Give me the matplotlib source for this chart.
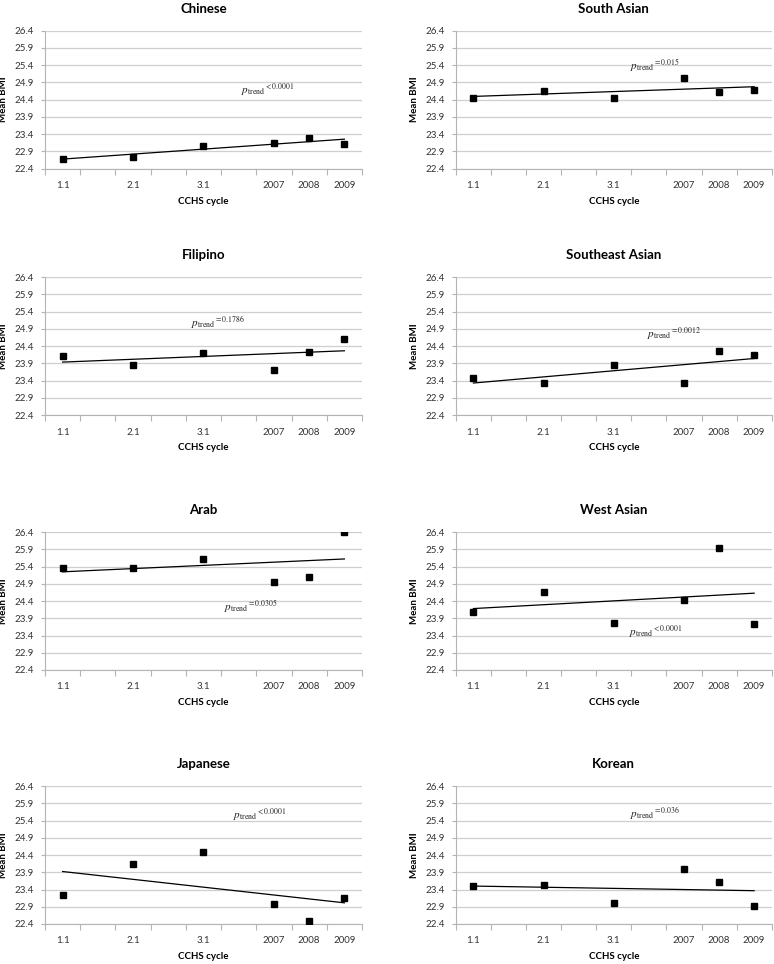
import numpy as np
import matplotlib.pyplot as plt
from matplotlib import rcParams

rcParams['font.family'] = ['Lato', 'DejaVu Sans']
rcParams['mathtext.fontset'] = 'stix'

# CCHS cycle labels (Excel category axis with empty slots between early cycles)
cycles = ["1.1", "", "2.1", "", "3.1", "", "2007", "2008", "2009"]
cycle_labels = ["1.1", "2.1", "3.1", "2007", "2008", "2009"]
cycle_slots = [0, 2, 4, 6, 7, 8]

groups = ["Chinese", "South Asian", "Filipino", "Southeast Asian",
          "Arab", "West Asian", "Japanese", "Korean"]

bmi_chinese = [22.68, 22.72, 23.05, 23.14, 23.29, 23.11]
bmi_south_asian = [24.44, 24.66, 24.45, 25.04, 24.62, 24.69]
bmi_filipino = [24.12, 23.86, 24.20, 23.71, 24.23, 24.60]
bmi_southeast_asian = [23.48, 23.33, 23.84, 23.32, 24.25, 24.15]
bmi_arab = [25.36, 25.35, 25.61, 24.95, 25.09, 26.39]
bmi_west_asian = [24.08, 24.66, 23.76, 24.43, 25.95, 23.72]
bmi_japanese = [23.23, 24.13, 24.50, 22.97, 22.48, 23.16]
bmi_korean = [23.50, 23.52, 23.00, 23.99, 23.62, 22.92]

p_trend = ["<0.0001", "=0.015", "=0.1786", "=0.0012",
           "=0.0305", "<0.0001", "<0.0001", "=0.036"]

series = [bmi_chinese, bmi_south_asian, bmi_filipino, bmi_southeast_asian,
          bmi_arab, bmi_west_asian, bmi_japanese, bmi_korean]

# where the p-trend note sits (data coords, left edge)
note_pos = [(5.56, 24.67), (4.95, 25.38), (4.14, 25.09), (5.44, 24.76),
            (5.09, 24.25), (4.94, 23.52), (5.35, 25.57), (4.95, 25.59)]

yticks = np.arange(22.4, 26.41, 0.5)

fig = plt.figure(figsize=(7.74, 9.64), dpi=100)

col_x = [0.0581, 0.589]
col_w = [0.4096, 0.408]
row_y = [0.8252, 0.5695, 0.305, 0.0415]
ax_h = 0.143

grid_col = "#cfcfcf"
axis_col = "#b4b4b4"
text_col = "#333333"

for i, (name, vals) in enumerate(zip(groups, series)):
    r, c = divmod(i, 2)
    ax = fig.add_axes([col_x[c], row_y[r], col_w[c], ax_h])

    x = np.array(cycle_slots) + 0.5
    y = np.array(vals)

    # linear trend line over the plotted points
    k, b = np.polyfit(x, y, 1)
    xt = np.array([x[0], x[-1]])
    ax.plot(xt, k * xt + b, color="black", lw=0.9, zorder=3)
    ax.plot(x, y, ls="none", marker="s", ms=5, color="black", zorder=4)

    ax.set_xlim(0, len(cycles))
    ax.set_ylim(22.4, 26.4)
    ax.set_yticks(yticks)
    ax.set_yticklabels([f"{v:.1f}" for v in yticks])
    ax.yaxis.grid(True, color=grid_col, lw=0.9)
    ax.set_axisbelow(True)

    ax.set_xticks(range(len(cycles) + 1))
    ax.set_xticklabels([])
    ax.set_xticks(x, minor=True)
    ax.set_xticklabels(cycle_labels, minor=True)
    ax.tick_params(axis="x", which="major", length=4, color=axis_col, width=0.8)
    ax.tick_params(axis="x", which="minor", length=0, pad=9,
                   labelsize=7, labelcolor=text_col)
    ax.tick_params(axis="y", length=3, color=axis_col, width=0.8, pad=5,
                   labelsize=7, labelcolor=text_col)

    for s in ["top", "right"]:
        ax.spines[s].set_visible(False)
    for s in ["left", "bottom"]:
        ax.spines[s].set_color(axis_col)
        ax.spines[s].set_linewidth(0.8)

    ax.set_title(name, fontsize=9.5, fontweight="bold", pad=13, color="black")
    ax.set_ylabel("Mean BMI", fontsize=7, fontweight="bold")
    ax.yaxis.set_label_coords(-0.118, 0.5)
    ax.set_xlabel("CCHS cycle", fontsize=7, fontweight="bold", labelpad=5)

    nx, ny = note_pos[i]
    ax.text(nx, ny, r"$p_{\mathrm{trend}}{}^{" + p_trend[i] + "}$",
            fontsize=8, ha="left", va="center", color="#222222")

fig.savefig("out.png", dpi=100)
